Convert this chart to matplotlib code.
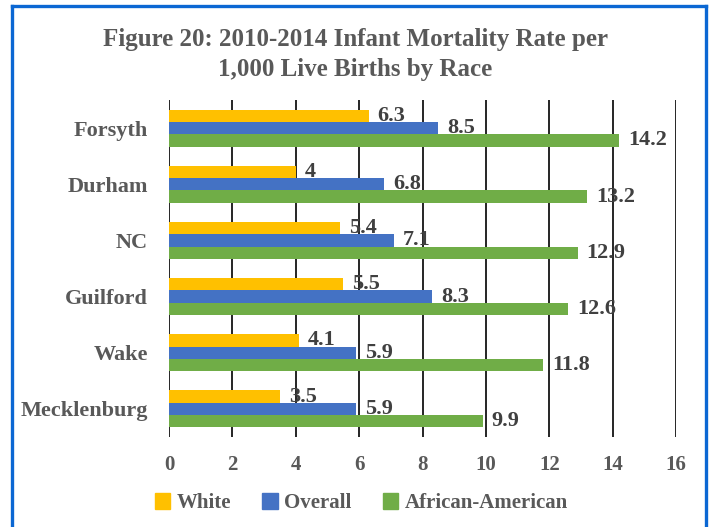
import matplotlib.pyplot as plt
from matplotlib.lines import Line2D
from matplotlib.patches import Patch
import numpy as np

counties = ['Forsyth', 'Durham', 'NC', 'Guilford', 'Wake', 'Mecklenburg']
white = [6.3, 4, 5.4, 5.5, 4.1, 3.5]
overall = [8.5, 6.8, 7.1, 8.3, 5.9, 5.9]
african_american = [14.2, 13.2, 12.9, 12.6, 11.8, 9.9]
white_labels = ['6.3', '4', '5.4', '5.5', '4.1', '3.5']

plt.rcParams['font.family'] = ['Liberation Serif', 'DejaVu Serif']

fig = plt.figure(figsize=(7.11, 5.27), dpi=100)
ax = fig.add_axes([0.2377, 0.1708, 0.7131, 0.6394])

y = np.arange(len(counties))
h = 0.22
series = [
    (white, '#FFC000', 'White', -h, white_labels),
    (overall, '#4472C4', 'Overall', 0, None),
    (african_american, '#70AD47', 'African-American', h, None),
]
for vals, col, name, off, labs in series:
    ax.barh(y + off, vals, height=h, color=col, label=name, zorder=3)
    if labs is None:
        labs = [f'{v:.1f}' for v in vals]
    for yy, v, t in zip(y + off, vals, labs):
        ax.text(v + 0.28, yy, t, va='center', ha='left', fontsize=16,
                fontweight='bold', color='#404040', zorder=4)

ax.set_xlim(0, 16)
ax.set_ylim(len(counties) - 0.5, -0.5)
ax.set_xticks(range(0, 17, 2))
ax.set_yticks(y)
ax.set_yticklabels(counties)
ax.grid(axis='x', color='black', linewidth=1.2, zorder=0)
for s in ax.spines.values():
    s.set_visible(False)
ax.tick_params(axis='both', length=0, colors='#595959')
ax.tick_params(axis='x', pad=13, labelsize=15)
ax.tick_params(axis='y', pad=15, labelsize=16)
for lab in ax.get_xticklabels() + ax.get_yticklabels():
    lab.set_fontweight('bold')

fig.text(0.5, 0.8966, 'Figure 20: 2010-2014 Infant Mortality Rate per\n1,000 Live Births by Race',
         ha='center', va='center', fontsize=18, fontweight='bold', color='#595959',
         linespacing=1.4)

handles = [Patch(color=c, label=n) for _, c, n, _, _ in series]
leg = fig.legend(handles=handles, loc='center', bbox_to_anchor=(0.508, 0.045), ncol=3,
                 frameon=False, fontsize=15, handlelength=0.75, handleheight=0.75,
                 handletextpad=0.3, columnspacing=1.5)
for t in leg.get_texts():
    t.set_color('#595959')
    t.set_fontweight('bold')

# blue frame
bc = '#0B67D3'
fig.add_artist(Line2D([12/711, 12/711], [0, 1 - 6/527], color=bc, lw=2.4, transform=fig.transFigure))
fig.add_artist(Line2D([706/711, 706/711], [0, 1 - 6/527], color=bc, lw=2.4, transform=fig.transFigure))
fig.add_artist(Line2D([12/711, 706/711], [1 - 6/527, 1 - 6/527], color=bc, lw=2.4, transform=fig.transFigure))

fig.savefig('out.png', dpi=100)
